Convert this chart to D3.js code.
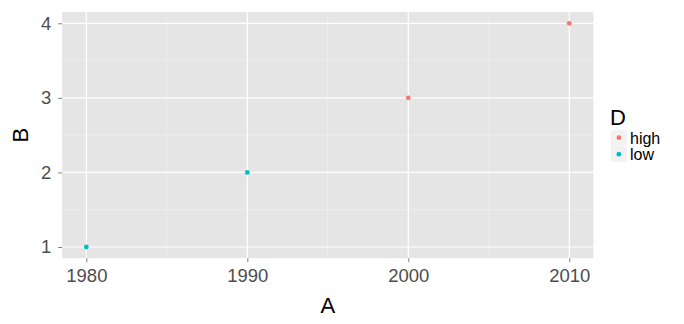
<!DOCTYPE html>
<html>
<head>
<meta charset="utf-8">
<script src="https://cdn.jsdelivr.net/npm/d3@7"></script>
<style>
  html, body { margin: 0; padding: 0; background: #fff; }
  text { font-family: "Liberation Sans", Arial, Helvetica, sans-serif; }
</style>
</head>
<body>
<div id="chart"></div>
<script>
(function () {
  const WIDTH = 684, HEIGHT = 324;

  // data
  const years = [1980, 1990, 2000, 2010];
  const values = [1, 2, 3, 4];
  const groups = ["low", "low", "high", "high"];
  const levels = ["high", "low"];
  const xTicks = [1980, 1990, 2000, 2010];
  const xMinor = [1985, 1995, 2005];
  const yTicks = [1, 2, 3, 4];
  const yMinor = [1.5, 2.5, 3.5];

  const panel = { left: 62.2, right: 593.4, top: 12.1, bottom: 258.2 };

  const svg = d3.select("#chart").append("svg")
    .attr("width", WIDTH).attr("height", HEIGHT)
    .attr("viewBox", `0 0 ${WIDTH} ${HEIGHT}`);

  // ggplot pads the data range by 5% on each side
  const xPad = (d3.max(years) - d3.min(years)) * 0.05;
  const yPad = (d3.max(values) - d3.min(values)) * 0.05;
  const x = d3.scaleLinear()
    .domain([d3.min(years) - xPad, d3.max(years) + xPad])
    .range([panel.left, panel.right]);
  const y = d3.scaleLinear()
    .domain([d3.min(values) - yPad, d3.max(values) + yPad])
    .range([panel.bottom, panel.top]);
  const color = d3.scaleOrdinal().domain(levels).range(["#F8766D", "#00BFC4"]);

  svg.append("rect")
    .attr("x", panel.left).attr("y", panel.top)
    .attr("width", panel.right - panel.left).attr("height", panel.bottom - panel.top)
    .attr("fill", "#E5E5E5");

  const grid = svg.append("g");
  grid.selectAll(".xmin").data(xMinor).join("line")
    .attr("x1", d => x(d)).attr("x2", d => x(d))
    .attr("y1", panel.top).attr("y2", panel.bottom)
    .attr("stroke", "#F2F2F2").attr("stroke-width", 0.6);
  grid.selectAll(".ymin").data(yMinor).join("line")
    .attr("y1", d => y(d)).attr("y2", d => y(d))
    .attr("x1", panel.left).attr("x2", panel.right)
    .attr("stroke", "#F2F2F2").attr("stroke-width", 0.6);
  grid.selectAll(".xmaj").data(xTicks).join("line")
    .attr("x1", d => x(d)).attr("x2", d => x(d))
    .attr("y1", panel.top).attr("y2", panel.bottom)
    .attr("stroke", "#fff").attr("stroke-width", 1.2);
  grid.selectAll(".ymaj").data(yTicks).join("line")
    .attr("y1", d => y(d)).attr("y2", d => y(d))
    .attr("x1", panel.left).attr("x2", panel.right)
    .attr("stroke", "#fff").attr("stroke-width", 1.2);

  // axes
  const xAxis = svg.append("g")
    .attr("transform", `translate(0,${panel.bottom})`)
    .call(d3.axisBottom(x).tickValues(xTicks).tickFormat(d3.format("d")).tickSize(4).tickPadding(7));
  const yAxis = svg.append("g")
    .attr("transform", `translate(${panel.left},0)`)
    .call(d3.axisLeft(y).tickValues(yTicks).tickFormat(d3.format("d")).tickSize(4).tickPadding(7));
  [xAxis, yAxis].forEach(a => {
    a.select(".domain").remove();
    a.selectAll(".tick line").attr("stroke", "#7F7F7F").attr("stroke-width", 1);
    a.selectAll(".tick text").attr("fill", "#4D4D4D")
      .style("font-size", "18.5px").style("font-family", "'Liberation Sans', Arial, sans-serif");
  });

  svg.append("text")
    .attr("x", (panel.left + panel.right) / 2).attr("y", 313)
    .attr("text-anchor", "middle").style("font-size", "22px").text("A");
  svg.append("text")
    .attr("transform", `translate(28,${(panel.top + panel.bottom) / 2}) rotate(-90)`)
    .attr("text-anchor", "middle").style("font-size", "22px").text("B");

  // points
  svg.append("g").selectAll("circle").data(years).join("circle")
    .attr("cx", d => x(d))
    .attr("cy", (d, i) => y(values[i]))
    .attr("r", 2.4)
    .attr("fill", (d, i) => color(groups[i]));

  // legend
  const legend = svg.append("g").attr("transform", "translate(611,0)");
  legend.append("text").attr("x", -1).attr("y", 124.5).style("font-size", "22px").text("D");
  const item = legend.selectAll(".item").data(levels).join("g")
    .attr("transform", (d, i) => `translate(0,${129.8 + i * 16.5})`);
  item.append("rect").attr("width", 15.8).attr("height", 15.8).attr("fill", "#F2F2F2");
  item.append("circle").attr("cx", 7.9).attr("cy", 7.9).attr("r", 2.4).attr("fill", d => color(d));
  item.append("text").attr("x", 19).attr("y", 13.8).style("font-size", "16px").text(d => d);
})();
</script>
</body>
</html>
